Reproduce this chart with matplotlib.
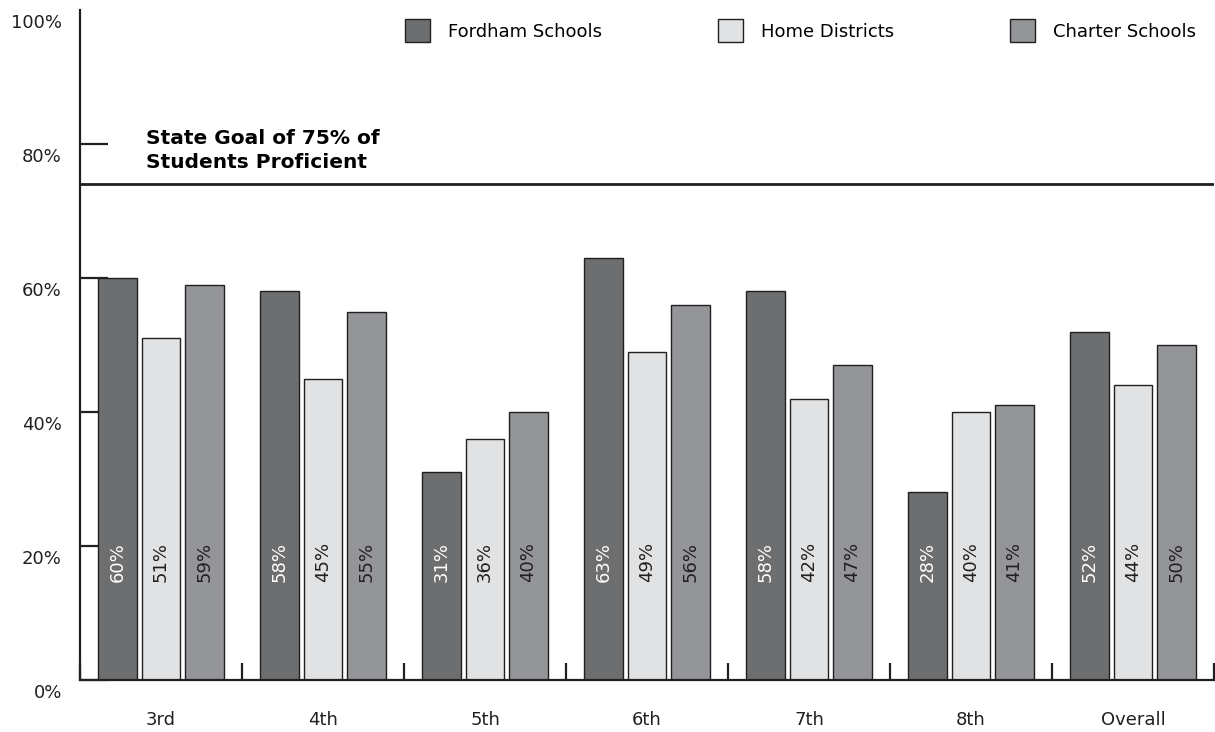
import matplotlib.pyplot as plt
import numpy as np
from matplotlib.patches import Patch
import matplotlib.transforms as mtransforms

grades = ["3rd", "4th", "5th", "6th", "7th", "8th", "Overall"]
fordham = [60, 58, 31, 63, 58, 28, 52]
home = [51, 45, 36, 49, 42, 40, 44]
charter = [59, 55, 40, 56, 47, 41, 50]
goal = 74  # line sits just under 75% in the picture

series = [("Fordham Schools", fordham, "#6d6e70", "white"),
          ("Home Districts", home, "#e1e2e3", "#231f20"),
          ("Charter Schools", charter, "#939598", "#231f20")]

plt.rcParams['font.family'] = ['DejaVu Sans']

fig = plt.figure(figsize=(12.15, 7.32), dpi=100)
ax = fig.add_axes([80 / 1215, 52 / 732, 1134 / 1215, 670 / 732])

x = np.arange(len(grades))
w = 0.24
step = 0.268
for i, (name, vals, col, tcol) in enumerate(series):
    pos = x + (i - 1) * step
    ax.bar(pos, vals, width=w, color=col, edgecolor="#231f20", linewidth=1, zorder=2)
    for p, v in zip(pos, vals):
        ax.text(p, 17.6, f"{v}%", rotation=90, ha="center", va="center",
                color=tcol, fontsize=13, zorder=3)

# state goal line
ax.axhline(goal, color="#231f20", linewidth=2, zorder=3)
ax.text(-0.09, 79.0, "State Goal of 75% of\nStudents Proficient",
        fontsize=14.5, fontweight="bold", ha="left", va="center", linespacing=1.3)

ax.set_xlim(-0.5, 6.5)
ax.set_ylim(0, 100)

for s in ["top", "right"]:
    ax.spines[s].set_visible(False)
for s in ["left", "bottom"]:
    ax.spines[s].set_linewidth(1.6)
    ax.spines[s].set_color("#231f20")
ax.set_axisbelow(True)

yt = [0, 20, 40, 60, 80, 100]
ax.set_yticks(yt, [f"{v}%" for v in yt])
ax.tick_params(axis="y", direction="in", length=20, width=1.6, pad=13,
               labelsize=13, colors="#231f20")
ax.yaxis.get_major_ticks()[-1].tick1line.set_visible(False)
off = mtransforms.ScaledTranslation(0, -11 / 100, fig.dpi_scale_trans)
for lab in ax.get_yticklabels():
    lab.set_transform(lab.get_transform() + off)

ax.set_xticks(x, grades)
ax.tick_params(axis="x", which="major", length=0, pad=22, labelsize=13,
               colors="#231f20")
ax.set_xticks(np.arange(-0.5, 7, 1), minor=True)
ax.tick_params(axis="x", which="minor", direction="in", length=12.5, width=1.6,
               color="#231f20")

handles = [Patch(facecolor=c, edgecolor="#231f20", linewidth=1) for _, _, c, _ in series]
ax.legend(handles, [s[0] for s in series], ncol=3, frameon=False,
          loc="upper right", bbox_to_anchor=(0.992, 1.0), fontsize=13,
          handlelength=1.4, handleheight=1.6, handletextpad=1.0,
          columnspacing=6.4, borderaxespad=0.1)

fig.savefig("out.png", dpi=100)
